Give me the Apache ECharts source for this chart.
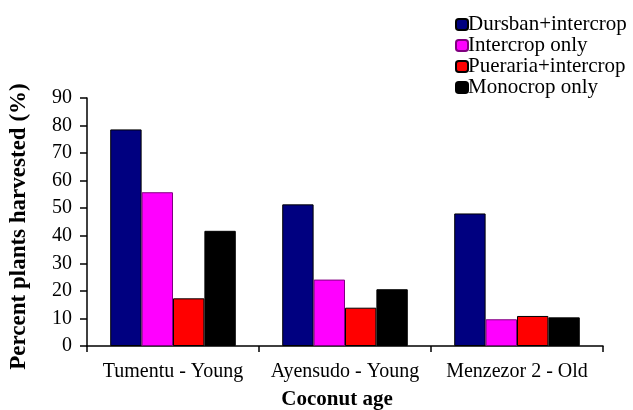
<!DOCTYPE html>
<html><head><meta charset="utf-8">
<script src="https://cdn.jsdelivr.net/npm/echarts@6/dist/echarts.min.js"></script>
<style>html,body{margin:0;padding:0;background:#fff}#c{width:633px;height:410px}</style>
</head><body><div id="c"></div>
<script>
const categories = ['Tumentu - Young', 'Ayensudo - Young', 'Menzezor 2 - Old'];
const seriesNames = ['Dursban+intercrop', 'Intercrop only', 'Pueraria+intercrop', 'Monocrop only'];
const dursban = [78.6, 51.4, 48.1];
const intercrop = [55.8, 24.1, 9.7];
const pueraria = [17.3, 13.9, 10.9];
const monocrop = [41.8, 20.6, 10.4];
const yTicks = [0, 10, 20, 30, 40, 50, 60, 70, 80, 90];
const colors = ['#000080', '#FF00FF', '#FF0000', '#000000'];
const values = [dursban, intercrop, pueraria, monocrop];
const font = '"Liberation Serif", "Times New Roman", serif';

const chart = echarts.init(document.getElementById('c'), null, {renderer: 'canvas'});
chart.setOption({
  animation: false,
  textStyle: {fontFamily: font},
  grid: {left: 87, right: 30, top: 98, bottom: 64, containLabel: false, outerBoundsMode: 'none'},
  legend: {
    orient: 'vertical', left: 450, top: 9, itemWidth: 12, itemHeight: 11, itemGap: 0,
    textStyle: {fontFamily: font, fontSize: 21, lineHeight: 19, color: '#000', padding: [0, 0, 0, -5]},
    data: seriesNames
  },
  xAxis: {
    type: 'category', data: categories,
    axisLine: {lineStyle: {color: '#000', width: 1.5}},
    axisTick: {show: true, length: 6, lineStyle: {color: '#000', width: 1.5}},
    axisLabel: {fontFamily: font, fontSize: 20, color: '#000', margin: 16, interval: 0},
    name: 'Coconut age', nameLocation: 'middle', nameGap: 43,
    nameTextStyle: {fontFamily: font, fontSize: 21, fontWeight: 'bold', color: '#000', padding: [0, 16, 0, 0]}
  },
  yAxis: {
    type: 'value', min: yTicks[0], max: yTicks[yTicks.length - 1], interval: 10,
    axisLine: {show: true, lineStyle: {color: '#000', width: 1.5}},
    axisTick: {show: true, length: 7, lineStyle: {color: '#000', width: 1.5}},
    splitLine: {show: false},
    axisLabel: {fontFamily: font, fontSize: 20, color: '#000', margin: 15},
    name: 'Percent plants harvested (%)', nameLocation: 'middle', nameGap: 56,
    nameTextStyle: {fontFamily: font, fontSize: 23, fontWeight: 'bold', color: '#000', padding: [0, 9, 0, 0]}
  },
  series: seriesNames.map((n, i) => ({
    name: n, type: 'bar', data: values[i],
    barGap: '0%', barCategoryGap: '27%',
    itemStyle: {color: colors[i], borderColor: i === 1 ? '#800080' : '#000', borderWidth: 1}
  }))
});
</script></body></html>
